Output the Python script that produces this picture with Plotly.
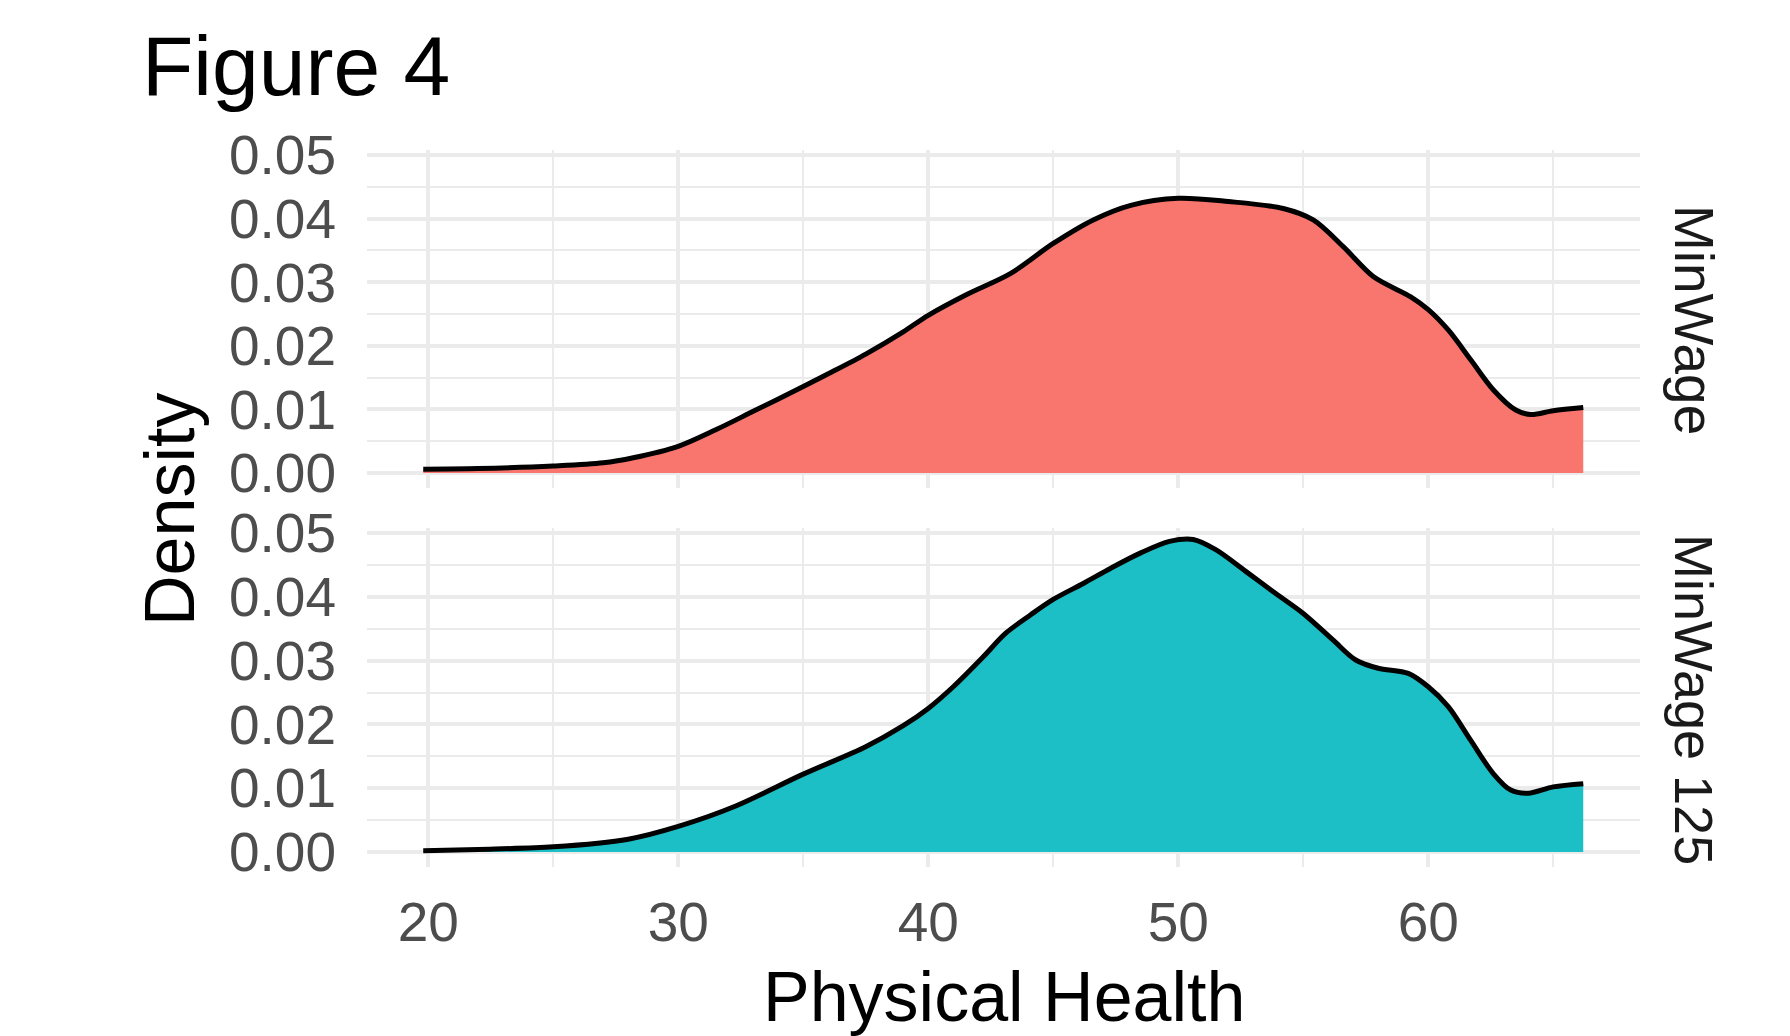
import plotly.graph_objects as go

# ---- data ----
panels = ["MinWage", "MinWage 125"]

minwage_x = [19.8, 22, 25, 27, 28.2, 30, 31.5, 33, 35, 36, 37.5, 39, 40, 41.5, 43.3, 45,
             46.6, 48.1, 50, 52, 54.2, 55.4, 56.6, 57.8, 59.3, 60, 60.8, 61.7, 62.6,
             63.5, 64.1, 65, 66.2]
minwage_y = [0.0006, 0.0007, 0.0011, 0.0016, 0.0024, 0.0042, 0.0068, 0.0097, 0.0136,
             0.0156, 0.0187, 0.0222, 0.0248, 0.0280, 0.0314, 0.0361, 0.0398, 0.0421,
             0.0432, 0.0427, 0.0416, 0.0398, 0.0356, 0.0309, 0.0277, 0.0257, 0.0225,
             0.0178, 0.0131, 0.0099, 0.0092, 0.0098, 0.0103]

minwage125_x = [19.8, 22, 25, 28, 30, 32.3, 35, 37.5, 39, 40, 41, 42.2, 43.1, 44.1, 45,
                46.2, 47.3, 48.5, 49.65, 50.6, 51.5, 52.7, 53.8, 55, 56.2, 57.1, 58,
                59.2, 60, 60.8, 61.7, 62.6, 63.3, 64, 65, 66.2]
minwage125_y = [0.0002, 0.0004, 0.0008, 0.0020, 0.0040, 0.0072, 0.0122, 0.0165, 0.0198,
                0.0225, 0.0259, 0.0306, 0.0343, 0.0372, 0.0396, 0.0421, 0.0445, 0.0469,
                0.0487, 0.0490, 0.0474, 0.0440, 0.0408, 0.0374, 0.0332, 0.0301, 0.0288,
                0.0280, 0.0259, 0.0228, 0.0175, 0.0123, 0.0097, 0.0092, 0.0102, 0.0107]

x_ticks = [20, 30, 40, 50, 60]
y_ticks = [0.00, 0.01, 0.02, 0.03, 0.04, 0.05]
y_tick_text = ["0.00", "0.01", "0.02", "0.03", "0.04", "0.05"]

fill_colors = ["#F8766D", "#1CBFC5"]

# ---- layout geometry ----
W, H = 1790, 1036
ML, MR, MT, MB = 367, 150, 150, 169
PW = W - ML - MR
PH = H - MT - MB


def px_x(px):
    return (px - ML) / PW


def px_y(py):
    return (H - MB - py) / PH


FONT = "Liberation Sans, Arial, Helvetica, sans-serif"
GRID = "#EBEBEB"

fig = go.Figure()

fig.add_trace(go.Scatter(
    x=minwage_x, y=minwage_y, xaxis="x2", yaxis="y2",
    mode="lines", line=dict(color="black", width=5, shape="spline", smoothing=0.9),
    fill="tozeroy", fillcolor=fill_colors[0], showlegend=False, name=panels[0]))

fig.add_trace(go.Scatter(
    x=minwage125_x, y=minwage125_y, xaxis="x", yaxis="y",
    mode="lines", line=dict(color="black", width=5, shape="spline", smoothing=0.9),
    fill="tozeroy", fillcolor=fill_colors[1], showlegend=False, name=panels[1]))

xrange = [17.55, 68.47]
yrange = [-0.00236, 0.0508]

common_x = dict(range=xrange, tickvals=x_ticks, showgrid=True, gridcolor=GRID, gridwidth=4,
                minor=dict(dtick=5, tick0=0, showgrid=True, gridcolor=GRID, gridwidth=2),
                zeroline=False, showline=False, ticks="",
                tickfont=dict(family=FONT, size=55, color="#4D4D4D"))
common_y = dict(range=yrange, tickvals=y_ticks, ticktext=y_tick_text, showgrid=True,
                gridcolor=GRID, gridwidth=4,
                minor=dict(dtick=0.005, tick0=0, showgrid=True, gridcolor=GRID, gridwidth=2),
                zeroline=False, showline=False, ticks="",
                tickfont=dict(family=FONT, size=55, color="#4D4D4D"),
                ticklabelstandoff=30)

top_bottom_px = 488
bot_top_px = 528

fig.update_layout(
    width=W, height=H,
    margin=dict(l=ML, r=MR, t=MT, b=MB, pad=0),
    paper_bgcolor="white", plot_bgcolor="white",
    xaxis=dict(common_x, domain=[0, 1], anchor="y", ticklabelstandoff=18),
    yaxis=dict(common_y, domain=[0, px_y(bot_top_px)], anchor="x"),
    xaxis2=dict(common_x, domain=[0, 1], anchor="y2", matches="x", showticklabels=False),
    yaxis2=dict(common_y, domain=[px_y(top_bottom_px), 1], anchor="x2", matches="y"),
    showlegend=False,
)

annotations = [
    dict(text="Figure 4", x=px_x(140), y=px_y(66), xanchor="left", yanchor="middle",
         font=dict(family=FONT, size=84, color="black")),
    dict(text="Physical Health", x=px_x(1003.5), y=px_y(997), xanchor="center", yanchor="middle",
         font=dict(family=FONT, size=70, color="black")),
    dict(text="Density", x=px_x(170), y=px_y(510), xanchor="center", yanchor="middle",
         textangle=-90, font=dict(family=FONT, size=70, color="black")),
    dict(text=panels[0], x=px_x(1694), y=px_y(320), xanchor="center", yanchor="middle",
         textangle=90, font=dict(family=FONT, size=55, color="#1A1A1A")),
    dict(text=panels[1], x=px_x(1694), y=px_y(699), xanchor="center", yanchor="middle",
         textangle=90, font=dict(family=FONT, size=54, color="#1A1A1A")),
]
for a in annotations:
    a.update(xref="paper", yref="paper", showarrow=False)
fig.update_layout(annotations=annotations)

fig.write_html("out.html")
